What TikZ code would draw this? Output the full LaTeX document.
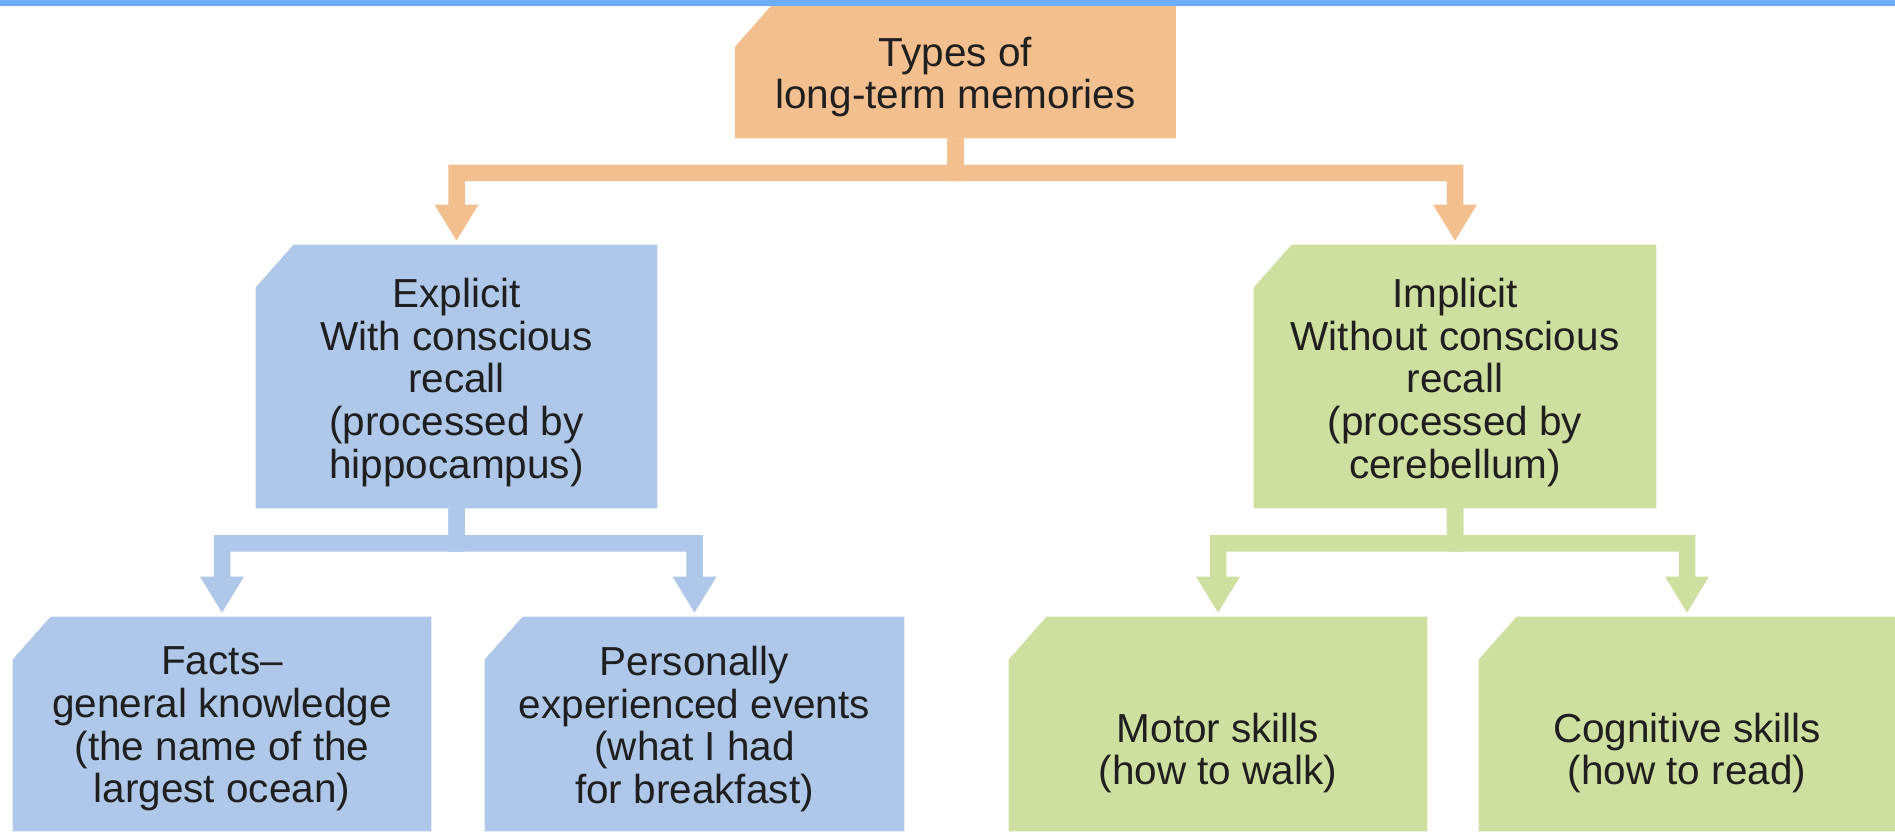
\documentclass[tikz,border=0pt]{standalone}
\usepackage{fontspec}
\setmainfont{Liberation Sans}
\usetikzlibrary{calc}

\definecolor{topbar}{HTML}{6EAEFF}
\definecolor{orangeC}{HTML}{F4BF8F}
\definecolor{blueC}{HTML}{AFC7E8}
\definecolor{greenC}{HTML}{CEE0A0}
\definecolor{ink}{HTML}{1F1F1F}

\tikzset{
  % invisible frame of a box; its fill is laid down by \mmcard
  card/.style 2 args={rectangle, inner sep=0pt, minimum width=#1, minimum height=#2},
  cardtext/.style={inner sep=0pt, align=center, text=ink,
    font=\fontsize{20.25pt}{21.3pt}\selectfont}
}

% fill of a box with a clipped top-left corner: #1 colour, #2 node
\newcommand{\mmcard}[2]{%
  \fill[#1] ([yshift=-21.5pt]#2.north west) -- ([xshift=19pt]#2.north west)
    -- (#2.north east) -- (#2.south east) -- (#2.south west) -- cycle;
}

% thick elbow connector with a triangular head, as one outline:
% #1 colour, #2 parent node, #3 child node, #4 drop from parent to the bar,
% #5 side of the child (-1 left, 1 right)
\newcommand{\mmbranch}[5]{%
  \fill[#1]
    ($(#2.south)+({-(#5)*8.25},0)$) --
    ($(#2.south)+({(#5)*8.25},0)$) --
    ($(#2.south)+({(#5)*8.25},{#4-8.25})$) --
    ($(#3.north |- #2.south)+({(#5)*8.25},{#4-8.25})$) --
    ($(#3.north)+({(#5)*8.25},-40)$) --
    ($(#3.north)+({(#5)*22},-40)$) --
    ($(#3.north)+(0,-4)$) --
    ($(#3.north)+({-(#5)*22},-40)$) --
    ($(#3.north)+({-(#5)*8.25},-40)$) --
    ($(#3.north |- #2.south)+({-(#5)*8.25},{#4+8.25})$) --
    ($(#2.south)+({-(#5)*8.25},{#4+8.25})$) -- cycle;
}

\begin{document}
\begin{tikzpicture}[x=0.5pt, y=-0.5pt]
\useasboundingbox (0,0) rectangle (1895,831);
\fill[white] (0,0) rectangle (1895,831);

% box frames
\node[card={220pt}{67pt}] (root) at (955.5,71) {};
\node[card={200.5pt}{131.5pt}] (explicit) at (456.5,376.5) {};
\node[card={201pt}{131.5pt}] (implicit) at (1455,376.5) {};
\node[card={209pt}{107pt}] (facts) at (222,724) {};
\node[card={209.5pt}{107pt}] (events) at (694.5,724) {};
\node[card={209pt}{107pt}] (motor) at (1218,724) {};
\node[card={208pt}{107pt}] (cognitive) at (1687,724) {};

% box fills
\mmcard{orangeC}{root}
\mmcard{blueC}{explicit}
\mmcard{greenC}{implicit}
\mmcard{blueC}{facts}
\mmcard{blueC}{events}
\mmcard{greenC}{motor}
\mmcard{greenC}{cognitive}

% connectors
\mmbranch{orangeC}{root}{explicit}{34.5}{-1}
\mmbranch{orangeC}{root}{implicit}{34.5}{1}
\mmbranch{blueC}{explicit}{facts}{35}{-1}
\mmbranch{blueC}{explicit}{events}{35}{1}
\mmbranch{greenC}{implicit}{motor}{35}{-1}
\mmbranch{greenC}{implicit}{cognitive}{35}{1}

% box texts
\node[cardtext] (rootT) at ($(root.center)+(0,6)$)
  {Types of\\long-term memories};
\node[cardtext] (explicitT) at ($(explicit.center)+(0,6)$)
  {Explicit\\With conscious\\recall\\(processed by\\hippocampus)};
\node[cardtext] (implicitT) at ($(implicit.center)+(0,6)$)
  {Implicit\\Without conscious\\recall\\(processed by\\cerebellum)};
\node[cardtext] (factsT) at ($(facts.center)+(0,5)$)
  {Facts--\\general knowledge\\(the name of the\\largest ocean)};
\node[cardtext] (eventsT) at ($(events.center)+(0,5)$)
  {Personally\\experienced events\\(what I had\\for breakfast)};
\node[cardtext] (motorT) at ($(motor.center)+(0,29)$)
  {Motor skills\\(how to walk)};
\node[cardtext] (cognitiveT) at ($(cognitive.center)+(0,29)$)
  {Cognitive skills\\(how to read)};

% frame strip along the top edge
\fill[topbar] (0,0) rectangle (1895,6);
\end{tikzpicture}
\end{document}
